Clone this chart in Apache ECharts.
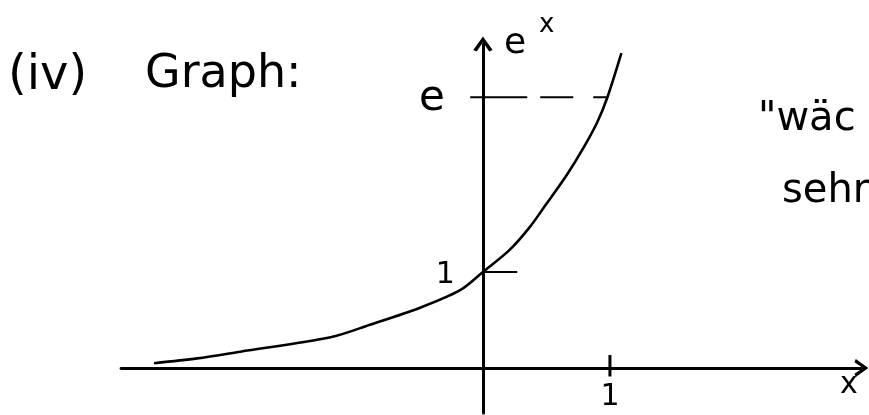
<!DOCTYPE html>
<html>
<head>
<meta charset="utf-8">
<script src="https://cdn.jsdelivr.net/npm/echarts@6/dist/echarts.min.js"></script>
<style>html,body{margin:0;padding:0;background:#fff}#c{width:869px;height:415px}</style>
</head>
<body>
<div id="c"></div>
<script>
// values (sketch units: x tick "1" = 1, y tick "1" = 1)
const curveX = [-2.59, -2.25, -1.91, -1.20, -0.89, -0.50, -0.18, 0.00, 0.21, 0.37, 0.50, 0.66, 0.79, 0.90, 0.98, 1.09];
const curveY = [0.05, 0.10, 0.17, 0.32, 0.45, 0.625, 0.81, 1.00, 1.23, 1.47, 1.71, 2.01, 2.29, 2.56, 2.82, 3.28];
const xTickValues = [1];
const xTickLabels = ['1'];
const yTickValues = [1, 2.82];
const yTickLabels = ['1', 'e'];
const eLevel = 2.82;
const eReachX = 0.98;

const ink = '#000';
const font = 'DejaVu Sans';
const chart = echarts.init(document.getElementById('c'), null, {renderer: 'canvas'});
const chevron = 'path://M0,14 L10,0 L20,14 L16.5,15.5 L10,6 L3.5,15.5 Z';

const series = [];
series.push({
  type: 'line', smooth: 0.3, showSymbol: false, silent: true,
  data: curveX.map((x, i) => [x, curveY[i]]),
  lineStyle: {color: ink, width: 2.6}
});
xTickValues.forEach(v => series.push({
  type: 'line', showSymbol: false, silent: true,
  data: [[v, 0.135], [v, -0.09]],
  lineStyle: {color: ink, width: 3}
}));
series.push({
  type: 'line', showSymbol: false, silent: true,
  data: [[0, yTickValues[0]], [0.27, yTickValues[0]]],
  lineStyle: {color: ink, width: 2}
});
series.push({
  type: 'line', showSymbol: false, silent: true,
  data: [[-0.1, eLevel], [eReachX, eLevel]],
  lineStyle: {color: ink, width: 2, type: [57, 13, 33, 20, 14, 3]}
});
// tick labels
series.push({
  type: 'scatter', symbolSize: 0, silent: true,
  itemStyle: {opacity: 1, color: ink},
  data: xTickValues.map((v, i) => ({value: [v, 0], name: xTickLabels[i]})),
  label: {show: true, position: 'bottom', distance: 14, formatter: p => p.name,
    color: ink, opacity: 1, fontSize: 30, fontFamily: font}
});
series.push({
  type: 'scatter', symbolSize: 0, silent: true,
  itemStyle: {opacity: 1, color: ink},
  data: yTickValues.map((v, i) => ({
    value: [0, v], name: yTickLabels[i],
    label: i === 1
      ? {fontSize: 42, distance: 38, offset: [0, 2], color: ink, opacity: 1}
      : {fontSize: 30, distance: 28, offset: [0, 3], color: ink, opacity: 1}
  })),
  label: {show: true, position: 'left', formatter: p => p.name, color: ink, opacity: 1, fontFamily: font}
});

chart.setOption({
  animation: false,
  backgroundColor: '#fff',
  grid: {left: 121, top: 44, width: 740.4, height: 369.1, containLabel: false, outerBoundsMode: 'none'},
  xAxis: {
    type: 'value', min: -2.85, max: 2.98,
    splitLine: {show: false},
    axisLine: {onZero: true, symbol: ['none', chevron], symbolSize: [18, 20], symbolOffset: [0, 0],
      lineStyle: {color: ink, width: 2.8}},
    axisTick: {show: false},
    axisLabel: {show: false}
  },
  yAxis: {
    type: 'value', min: -0.47, max: 3.375,
    splitLine: {show: false},
    axisLine: {onZero: true, symbol: ['none', chevron], symbolSize: [28, 15], symbolOffset: [0, 0],
      lineStyle: {color: ink, width: 3}},
    axisTick: {show: false},
    axisLabel: {show: false}
  },
  graphic: [
    {type: 'text', left: 8, top: 53, style: {text: '(iv)', fill: ink, font: '48px "DejaVu Sans"'}},
    {type: 'text', left: 145, top: 52, style: {text: 'Graph:', fill: ink, font: '46px "DejaVu Sans"'}},
    {type: 'text', left: 504, top: 26, style: {text: 'e', fill: ink, font: '36px "DejaVu Sans"'}},
    {type: 'text', left: 539, top: 12, style: {text: 'x', fill: ink, font: '26px "DejaVu Sans"'}},
    {type: 'text', left: 840, top: 370, style: {text: 'x', fill: ink, font: '30px "DejaVu Sans"'}},
    {type: 'text', left: 758, top: 100, style: {text: '"wäc', fill: ink, font: '40px "DejaVu Sans"'}},
    {type: 'text', left: 782, top: 172, style: {text: 'sehr', fill: ink, font: '40px "DejaVu Sans"'}}
  ],
  series: series
});
</script>
</body>
</html>
